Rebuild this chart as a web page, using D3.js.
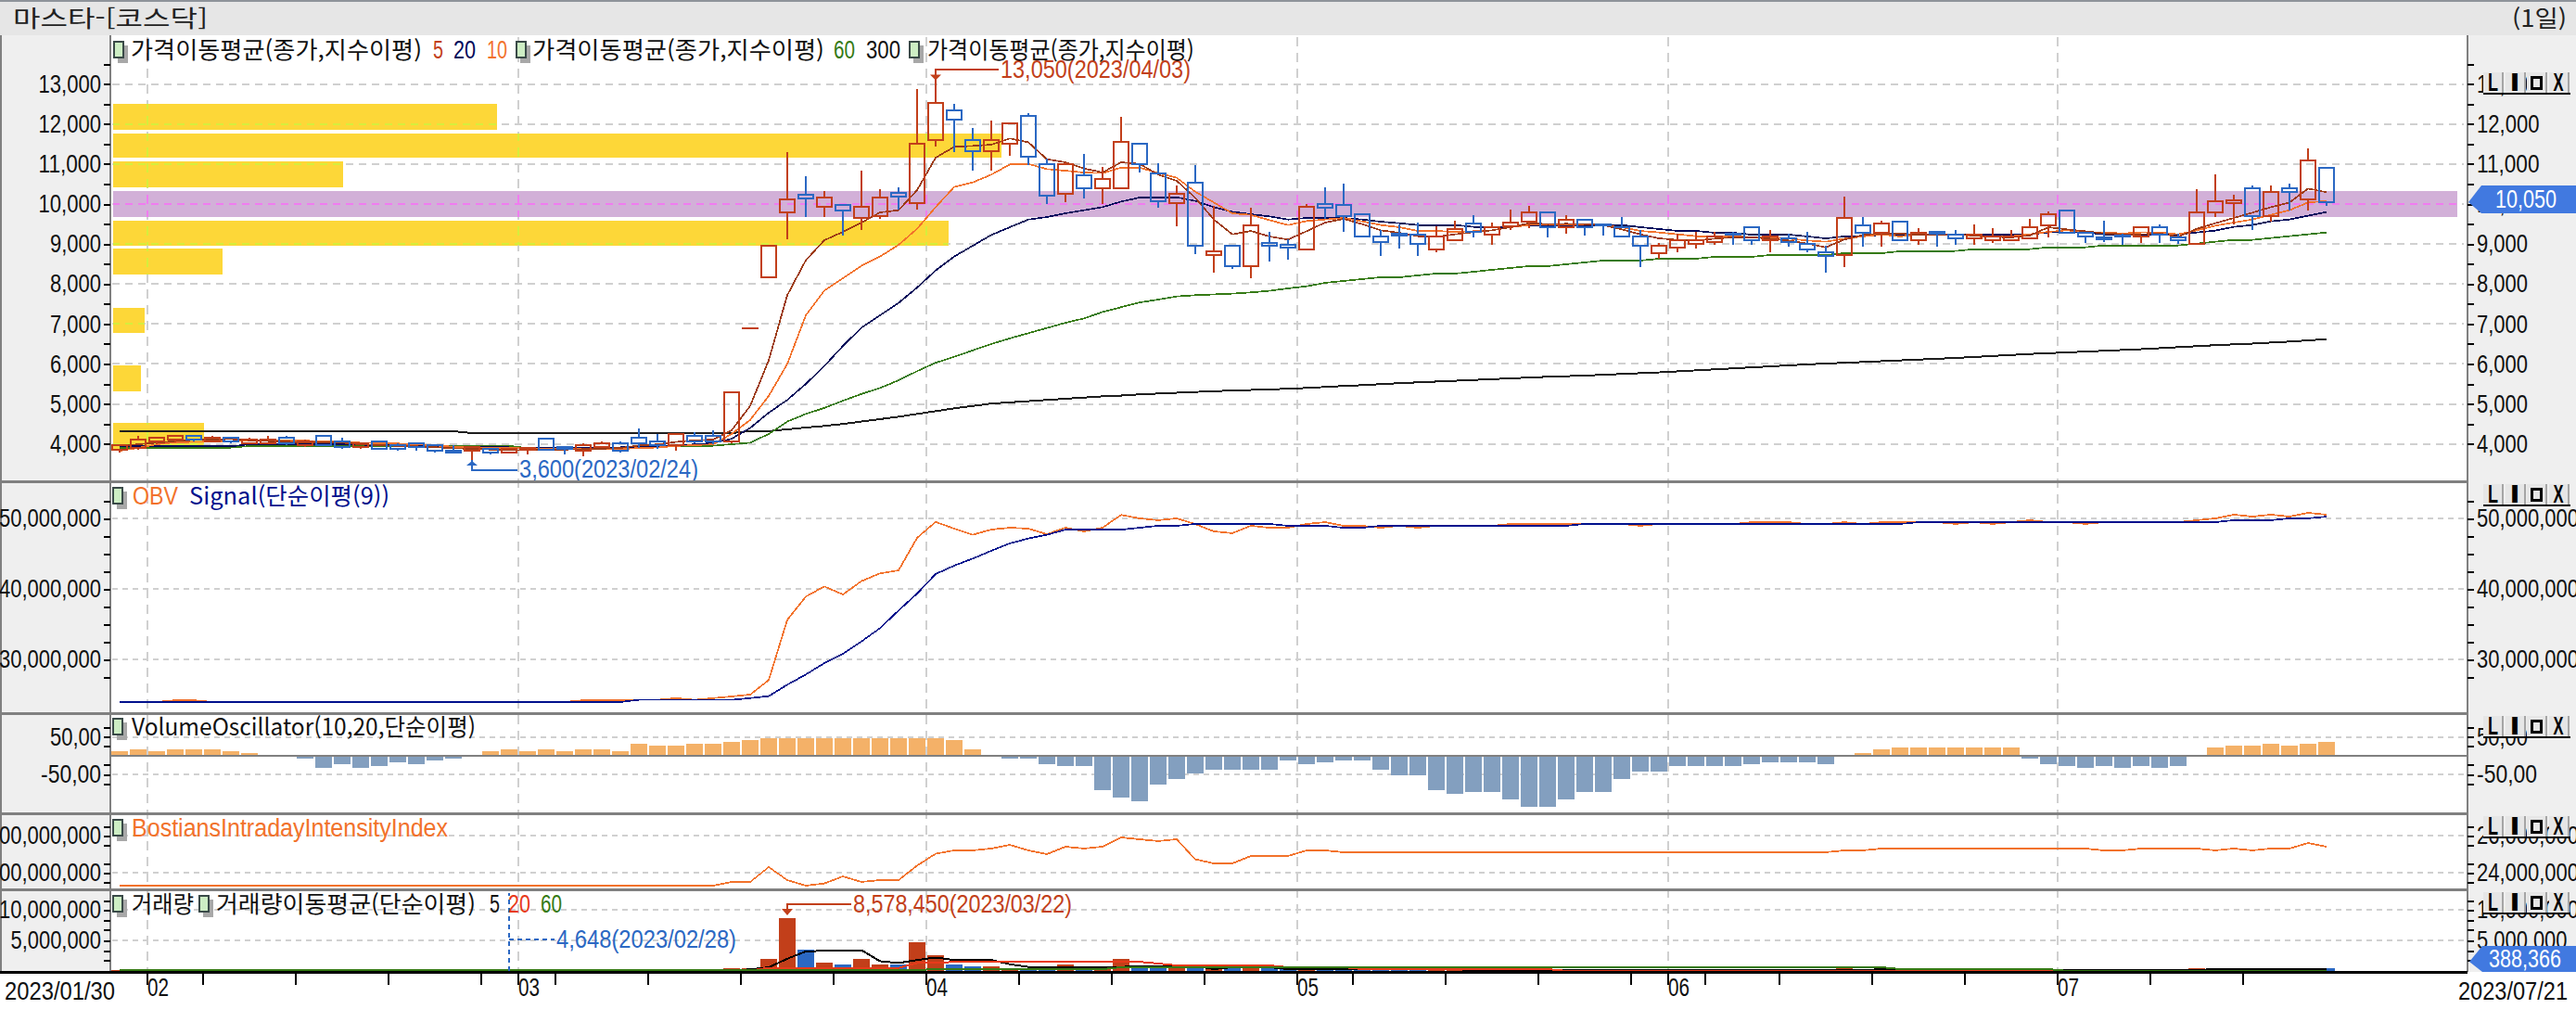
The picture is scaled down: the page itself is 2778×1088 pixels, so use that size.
<!DOCTYPE html>
<html lang="ko">
<head>
<meta charset="utf-8">
<title>마스타 - 코스닥</title>
<script src="https://cdn.jsdelivr.net/npm/d3@7/dist/d3.min.js"></script>
<style>
    html, body { margin: 0; padding: 0; background: #fff; overflow: hidden; }
    svg { display: block; }
    .crisp { shape-rendering: crispEdges; }
    text { font-family: "Liberation Sans", "Noto Sans CJK KR", sans-serif; font-size: 27px; fill: #111; }
    .kr { font-family: "Noto Sans CJK KR", sans-serif; font-size: 25px; }
</style>
</head>
<body>
<svg id="chart" width="2778" height="1088"></svg>
<script>
// Trading days shown on the chart
var days = [
    '01/30','01/31',
    '02/01','02/02','02/03','02/06','02/07','02/08','02/09','02/10','02/13','02/14',
    '02/15','02/16','02/17','02/20','02/21','02/22','02/23','02/24','02/27','02/28',
    '03/02','03/03','03/06','03/07','03/08','03/09','03/10','03/13','03/14','03/15','03/16',
    '03/17','03/20','03/21','03/22','03/23','03/24','03/27','03/28','03/29','03/30','03/31',
    '04/03','04/04','04/05','04/06','04/07','04/10','04/11','04/12','04/13','04/14',
    '04/17','04/18','04/19','04/20','04/21','04/24','04/25','04/26','04/27','04/28',
    '05/02','05/03','05/04','05/08','05/09','05/10','05/11','05/12','05/15','05/16',
    '05/17','05/18','05/19','05/22','05/23','05/24','05/25','05/26','05/30','05/31',
    '06/01','06/02','06/05','06/07','06/08','06/09','06/12','06/13','06/14','06/15','06/16',
    '06/19','06/20','06/21','06/22','06/23','06/26','06/27','06/28','06/29','06/30',
    '07/03','07/04','07/05','07/06','07/07','07/10','07/11','07/12','07/13','07/14',
    '07/17','07/18','07/19','07/20','07/21'
];
var monthStarts = ['02/01','03/02','04/03','05/02','06/01','07/03'];
var mondays = ['02/06','02/13','02/20','02/27','03/06','03/13','03/20','03/27','04/10','04/17','04/24',
    '05/08','05/15','05/22','05/30','06/05','06/12','06/19','06/26','07/10','07/17'];

var open = [
    3854,3900,4062,4109,4202,4062,4155,4016,4016,4155,
    3970,4194,4062,3923,4062,3970,4016,3970,3823,3830,
    3877,3784,3854,4132,3923,3830,3923,4016,4155,4062,
    3970,4202,4202,4062,6900,8167,9791,10224,9923,9985,
    9644,9691,10271,10023,11600,12350,11608,11314,11500,12211,
    11005,10255,10727,10387,10387,11515,10773,10015,10541,8716,
    8964,8438,9026,8979,8863,9992,9985,9753,9197,9266,
    9243,8856,9088,9521,9228,9444,9552,9800,9413,9614,
    9490,9429,9197,8764,8903,8996,9042,9258,9429,9088,
    9150,9011,8787,8717,9475,9274,9568,9088,9305,9243,
    9135,9088,9088,9135,9459,9846,9289,9166,9212,9181,
    9428,9166,9003,9784,10016,10403,9691,10403,10109,10913
];
var high = [
    3970,4201,4155,4202,4202,4201,4155,4155,4201,4201,
    4109,4194,4155,4016,4062,4016,4016,3970,3970,3923,
    3877,3877,3900,4132,3923,4016,4062,4062,4387,4248,
    4248,4294,4341,5298,6900,8964,11291,10688,10325,9985,
    10827,10363,10410,12876,13050,12505,11894,12080,12026,12265,
    11144,11044,11253,10928,12180,11515,11013,10464,10974,9946,
    8964,9907,9304,9111,9992,10417,10510,9753,9343,9490,
    9537,9444,9575,9722,9537,9862,9954,9800,9722,9614,
    9490,9676,9343,9026,9258,9305,9305,9305,9429,9343,
    9258,9305,8957,10186,9676,9583,9568,9398,9305,9351,
    9490,9390,9351,9630,9815,9846,9289,9575,9259,9428,
    9482,9259,10372,10743,10233,10457,10465,10503,11392,10913
];
var low = [
    3784,3854,3993,4039,4060,4062,4016,4016,4016,3970,
    3923,3977,3877,3877,3877,3830,3830,3784,3792,3600,
    3738,3784,3738,3854,3738,3699,3923,3784,3900,3877,
    3830,4016,4000,4016,6900,8167,9126,9683,9683,9219,
    9358,9637,9869,9869,11446,11307,10843,10843,11214,10982,
    10000,10054,10147,10000,10387,10796,9915,9451,8755,8291,
    8384,8152,8570,8608,8863,9637,9304,9188,8702,8887,
    8702,8802,9088,9166,8980,9351,9398,9166,9258,9212,
    9212,9181,8423,8624,8794,8887,8980,8980,8980,8794,
    8934,8794,8284,8423,8934,8934,9088,8980,8941,8980,
    8980,9026,9088,9135,9173,9289,9026,9057,8980,9026,
    9026,9000,9003,9676,9498,9351,9568,9831,9831,9962
];
var close = [
    3970,4101,4155,4202,4109,4155,4062,4109,4109,4016,
    4062,3977,3923,4016,3877,3877,3923,3830,3792,3923,
    3784,3877,3900,3854,3877,3970,4016,3830,4016,3970,
    4248,4062,4062,5298,6900,8964,10124,10147,10170,9845,
    9938,10170,10193,11515,12536,12103,11314,11608,12026,11183,
    10201,11005,10387,10634,11562,10997,10070,10263,8956,8825,
    8438,9474,8948,8902,9938,9915,9706,9188,9042,9220,
    8996,9197,9382,9305,9429,9537,9800,9413,9614,9413,
    9460,9181,8949,8965,9088,9104,9197,9228,9088,9197,
    9042,8856,8709,9660,9274,9521,9088,9289,9258,9135,
    9227,9181,9181,9428,9753,9289,9197,9119,9181,9428,
    9227,9088,9800,10078,10093,9691,10310,10295,11099,10050
];

// Moving averages
var ma5 = [
    3960,3990,4030,4070,4100,4110,4120,4090,4070,4060,
    4030,4040,4030,3990,3970,3950,3940,3920,3890,3880,
    3860,3850,3840,3860,3860,3870,3880,3900,3960,3990,
    4050,4090,4110,4340,4950,6090,7720,8593,9095,9304,
    9536,9791,9845,10348,11160,11430,11454,11485,11640,11546,
    11120,11044,10890,10790,11044,11005,10735,10580,10155,9613,
    9242,9328,9188,9111,9320,9537,9630,9498,9343,9282,
    9197,9181,9243,9297,9343,9421,9521,9498,9506,9498,
    9475,9367,9243,9142,9104,9088,9135,9166,9166,9135,
    9088,9011,8918,9112,9227,9266,9266,9227,9243,9243,
    9212,9181,9166,9212,9420,9367,9320,9266,9243,9243,
    9266,9181,9382,9521,9653,9784,9923,10039,10387,10295
];
var ma10 = [
    3830,3900,3990,4040,4050,4060,4070,4080,4080,4090,
    4080,4070,4050,4030,4020,4010,3990,3960,3930,3910,
    3900,3900,3890,3880,3870,3870,3880,3870,3900,3910,
    3950,3970,3990,4250,4600,5200,6000,7216,7835,8144,
    8454,8686,8979,9381,9923,10425,10541,10735,10990,11005,
    10874,10835,10789,10773,10912,10912,10773,10657,10309,10039,
    9768,9729,9598,9474,9575,9614,9653,9568,9475,9421,
    9328,9328,9305,9320,9343,9421,9475,9490,9498,9498,
    9460,9421,9328,9290,9243,9197,9189,9189,9174,9174,
    9135,9088,9057,9135,9189,9243,9189,9243,9243,9243,
    9204,9181,9197,9243,9305,9343,9290,9290,9266,9290,
    9290,9243,9343,9459,9537,9614,9730,9846,10039,10078
];
var ma20 = [
    3950,3950,3950,3950,3940,3940,3940,3990,3990,3990,
    3990,3990,3990,3980,3970,3960,3950,3940,3930,3925,
    3920,3915,3910,3905,3905,3905,3910,3915,3920,3930,
    3950,3990,4020,4130,4400,4780,5100,5500,5950,6450,
    6907,7216,7526,7912,8338,8686,8956,9227,9420,9613,
    9675,9768,9845,9923,10062,10162,10170,10170,10077,9923,
    9807,9745,9691,9613,9652,9653,9653,9614,9560,9521,
    9475,9475,9475,9429,9429,9429,9475,9475,9475,9475,
    9475,9475,9421,9375,9328,9328,9282,9282,9235,9235,
    9235,9189,9142,9189,9189,9235,9235,9235,9235,9243,
    9243,9243,9243,9243,9290,9290,9290,9243,9243,9243,
    9243,9243,9290,9336,9428,9475,9568,9614,9707,9800
];
var ma60 = [
    3908,3908,3908,3908,3908,3908,3908,3946,3946,3946,
    3946,3946,3954,3954,3954,3954,3954,3954,3954,3954,
    3954,3954,3892,3892,3892,3892,3908,3908,3908,3954,
    3954,3954,3954,3993,4030,4250,4560,4750,4900,5080,
    5250,5400,5590,5820,6030,6180,6340,6500,6640,6770,
    6900,7030,7140,7300,7420,7540,7610,7690,7720,7740,
    7760,7790,7830,7890,7944,8029,8076,8122,8168,8168,
    8215,8261,8261,8307,8354,8400,8447,8447,8493,8540,
    8586,8586,8586,8632,8632,8632,8679,8679,8679,8725,
    8725,8725,8725,8771,8771,8771,8818,8818,8818,8826,
    8872,8872,8872,8872,8918,8918,8918,8965,8965,8965,
    8965,8965,9011,9057,9104,9104,9150,9197,9243,9289
];
var ma300 = [
    4317,4317,4317,4317,4317,4317,4317,4317,4317,4317,
    4317,4317,4317,4317,4317,4317,4317,4317,4317,4271,
    4271,4271,4271,4271,4271,4271,4271,4271,4271,4271,
    4271,4271,4271,4271,4320,4320,4365,4410,4450,4500,
    4560,4620,4680,4750,4820,4890,4950,5010,5040,5070,
    5100,5130,5160,5190,5210,5240,5260,5280,5300,5320,
    5335,5350,5365,5380,5400,5425,5450,5470,5495,5520,
    5540,5560,5580,5600,5620,5640,5660,5680,5695,5710,
    5730,5750,5770,5790,5815,5840,5865,5890,5915,5940,
    5965,5990,6010,6030,6050,6070,6090,6110,6130,6150,
    6175,6200,6225,6250,6270,6290,6310,6330,6350,6370,
    6395,6420,6445,6470,6490,6510,6535,6560,6590,6620
];

// Volume profile bands: top price, bottom price, share in percent of the longest
var profileTop = [12506,11764,11068,9583,8887,7403,5965,4527];
var profileBottom = [11856,11160,10409,8968,8238,6786,5315,3877];
var profileShare = [43.2,100,25.9,94,12.3,3.5,3.1,10.2];
var currentBandTop = 10326;
var currentBandBottom = 9676;
var currentBandShare = 263.9;

var obv = [
    23.95,23.95,23.95,24.2,24.2,23.95,23.95,23.95,23.95,23.95,
    23.95,23.95,23.95,23.95,23.95,23.95,23.95,23.95,23.95,23.95,
    23.95,23.95,23.95,23.95,23.95,24.2,24.2,24.2,24.26,24.26,
    24.5,24.26,24.5,24.74,25,27.06,35.6,38.9,40.35,39.2,
    41.1,42.2,42.63,47.24,49.5,48.55,47.68,48.42,48.68,48.55,
    47.76,48.68,48.16,48.68,50.5,50,49.74,50,49.2,48.16,
    47.9,48.95,48.68,48.68,49.21,49.47,48.95,48.95,48.68,48.95,
    48.68,48.95,48.95,48.95,48.95,49.21,49.21,49.21,49.21,49.21,
    49.21,49.21,48.95,49.21,49.21,49.21,49.21,49.21,49.47,49.47,
    49.47,49.21,49.21,49.47,49.21,49.47,49.47,49.47,49.47,49.21,
    49.47,49.21,49.47,49.74,49.47,49.47,49.21,49.47,49.47,49.47,
    49.47,49.47,49.74,50,50.53,50.26,50.53,50.26,50.79,50.53
];
var obvSignal = [
    23.95,23.95,23.95,23.95,23.95,23.95,23.95,23.95,23.95,23.95,
    23.95,23.95,23.95,23.95,23.95,23.95,23.95,23.95,23.95,23.95,
    23.95,23.95,23.95,23.95,23.95,23.95,23.95,23.95,24.26,24.26,
    24.26,24.26,24.26,24.26,24.5,24.78,26.4,27.85,29.47,30.8,
    32.54,34.43,36.93,39.34,42.1,43.3,44.3,45.4,46.45,47.15,
    47.68,48.4,48.4,48.4,48.4,48.68,48.95,48.95,49.21,49.21,
    49.21,49.21,49.21,48.95,48.95,48.95,48.68,48.68,48.95,48.95,
    48.95,48.95,48.95,48.95,48.95,48.95,48.95,48.95,48.95,49.21,
    49.21,49.21,49.21,49.21,49.21,49.21,49.21,49.21,49.21,49.21,
    49.21,49.21,49.21,49.21,49.21,49.21,49.21,49.47,49.47,49.47,
    49.47,49.47,49.47,49.47,49.47,49.47,49.47,49.47,49.47,49.47,
    49.47,49.47,49.47,49.47,49.74,49.74,49.74,50,50,50.26
];

var volumeOsc = [
    10,15,10,15,15,15,10,5,0,0,
    -5,-30,-20,-30,-25,-15,-20,-10,-5,0,
    10,15,10,15,10,15,15,10,30,25,
    25,30,30,35,40,45,45,45,45,45,
    45,45,45,45,45,40,15,0,-5,-5,
    -20,-25,-25,-89,-109,-119,-74,-59,-45,-35,
    -35,-35,-35,-10,-20,-15,-10,-10,-35,-50,
    -50,-89,-99,-94,-94,-114,-134,-134,-114,-94,
    -94,-59,-40,-40,-25,-25,-25,-25,-20,-15,
    -15,-15,-20,0,5,15,20,20,20,20,
    20,20,20,-5,-20,-25,-30,-25,-30,-25,
    -30,-25,0,20,25,25,30,25,30,35
];

var bostians = [
    23.3,23.3,23.3,23.3,23.3,23.3,23.3,23.3,23.3,23.3,
    23.3,23.3,23.3,23.3,23.3,23.3,23.3,23.3,23.3,23.3,
    23.3,23.3,23.3,23.3,23.3,23.3,23.3,23.3,23.3,23.3,
    23.3,23.3,23.3,23.5,23.5,24.3,23.6,23.3,23.42,23.8,
    23.5,23.6,23.6,24.38,25.02,25.2,25.2,25.3,25.5,25.2,
    25,25.4,25.3,25.4,25.9,25.8,25.7,25.8,24.72,24.5,
    24.5,24.9,24.9,24.9,25.2,25.2,25.1,25.1,25.1,25.1,
    25.1,25.1,25.1,25.1,25.1,25.1,25.1,25.1,25.1,25.1,
    25.1,25.1,25.1,25.1,25.1,25.1,25.1,25.1,25.1,25.1,
    25.1,25.1,25.1,25.2,25.2,25.3,25.3,25.3,25.3,25.3,
    25.3,25.3,25.3,25.3,25.3,25.3,25.3,25.2,25.2,25.3,
    25.3,25.3,25.3,25.2,25.3,25.2,25.3,25.3,25.6,25.4
];

var volume = [
    150000,120000,90000,80000,70000,75000,60000,60000,55000,60000,
    50000,45000,40000,40000,38000,35000,30000,30000,28000,40000,
    30000,4648,20000,30000,25000,45000,35000,35000,60000,70000,
    90000,60000,70000,450000,450000,2000000,8578450,3500000,1400000,1100000,
    2000000,1100000,1100000,4700000,2600000,1100000,800000,800000,500000,500000,
    500000,1100000,500000,500000,2000000,500000,500000,1100000,500000,800000,
    500000,800000,500000,400000,300000,300000,300000,300000,300000,250000,
    250000,220000,250000,200000,200000,250000,220000,200000,200000,180000,
    180000,150000,150000,180000,150000,150000,130000,130000,120000,130000,
    130000,120000,150000,500000,200000,200000,150000,130000,130000,120000,
    120000,110000,110000,120000,130000,120000,100000,100000,100000,110000,
    120000,110000,500000,480000,250000,300000,250000,250000,500000,388366
];
var volMa5 = [
    100000,100000,100000,100000,100000,90000,80000,70000,70000,60000,
    60000,55000,50000,45000,42000,40000,38000,35000,32000,32000,
    30000,25000,25000,25000,25000,30000,30000,30000,40000,50000,
    60000,65000,70000,120000,250000,600000,2000000,3200000,3300000,3400000,
    3400000,1600000,1300000,1800000,2200000,1800000,1800000,1800000,1100000,650000,
    650000,650000,650000,650000,650000,800000,800000,800000,800000,300000,
    600000,600000,600000,300000,300000,300000,300000,300000,280000,280000,
    250000,240000,230000,220000,210000,210000,210000,210000,200000,200000,
    180000,170000,160000,160000,150000,150000,140000,140000,130000,130000,
    130000,120000,130000,220000,220000,230000,230000,200000,140000,130000,
    120000,120000,110000,110000,120000,120000,110000,110000,100000,100000,
    110000,110000,200000,250000,280000,300000,300000,280000,300000,330000
];
var volMa20 = [
    60000,60000,60000,60000,60000,60000,60000,60000,60000,60000,
    60000,60000,60000,60000,60000,60000,60000,60000,60000,60000,
    60000,60000,60000,60000,60000,60000,60000,60000,60000,60000,
    60000,60000,60000,60000,60000,500000,500000,500000,500000,500000,
    500000,500000,500000,1300000,1300000,1500000,1500000,1500000,1500000,1500000,
    1500000,1500000,1500000,1500000,1500000,1500000,1210000,910000,910000,910000,
    910000,910000,910000,610000,610000,610000,610000,300000,300000,300000,
    300000,300000,300000,300000,300000,300000,300000,300000,20000,20000,
    20000,20000,20000,20000,20000,20000,20000,20000,20000,20000,
    20000,20000,20000,20000,20000,20000,20000,20000,20000,20000,
    20000,20000,20000,20000,20000,20000,20000,20000,20000,20000,
    20000,20000,20000,20000,20000,20000,20000,20000,20000,20000
];
var volMa60 = [
    150000,150000,150000,150000,150000,150000,150000,150000,150000,150000,
    150000,150000,150000,150000,150000,150000,150000,150000,150000,150000,
    150000,150000,150000,150000,150000,150000,150000,150000,150000,150000,
    150000,150000,150000,150000,150000,150000,150000,150000,150000,150000,
    150000,150000,150000,150000,300000,300000,300000,300000,300000,300000,
    300000,300000,300000,300000,610000,610000,610000,610000,610000,610000,
    610000,610000,610000,610000,610000,610000,610000,610000,610000,610000,
    610000,610000,610000,610000,610000,610000,610000,610000,610000,610000,
    610000,610000,610000,610000,610000,610000,610000,610000,610000,610000,
    610000,610000,610000,610000,610000,610000,300000,300000,300000,300000,
    300000,300000,300000,300000,300000,20000,20000,20000,20000,20000,
    20000,20000,20000,20000,20000,20000,20000,20000,20000,20000
];

var priceMajor = [4000,5000,6000,7000,8000,9000,10000,11000,12000,13000];
var priceMinor = [4500,5500,6500,7500,8500,9500,10500,11500,12500,13500];
var obvMajor = [30,40,50];
var obvMinor = [27.5,32.5,35,37.5,42.5,45,47.5,52.5];
var voMajor = [50,-50];
var voMinor = [75,25,-25,-75];
var biiMajor = [26,24];
var biiMinor = [26.5,25.5,24.5,23.5];
var volMajor = [10000000,5000000];
var volMinor = [11500000,8300000,6700000,3300000,1700000];

var red = '#c23f1a', blue = '#2b68c3', brown = '#9c3a16', orange = '#f2722b';
var navy = '#00085a', green = '#357a14', obvNavy = '#00108c';
var plotLeft = 119, plotRight = 2661;

var svg = d3.select('#chart');

var x = d3.scaleBand().domain(days).range([plotLeft, plotLeft + 20 * days.length]);
var cx = function (i) { return x(days[i]) + x.bandwidth() / 2; };

var yPrice = d3.scaleLinear().domain([13000, 4000]).range([90.7, 478.7]);
var yObv = d3.scaleLinear().domain([50, 30]).range([559, 711]);
var yVo = d3.scaleLinear().domain([50, -50]).range([794.7, 835]);
var yBii = d3.scaleLinear().domain([26, 24]).range([901, 941]);
var yVol = d3.scaleLinear().domain([0, 10000000]).range([1047, 981]);
var xProfile = d3.scaleLinear().domain([0, 100]).range([122, 1080]);

var fmt = d3.format(',');

// width of a number label in the condensed look of the original
function numWidth(s) {
    var w = 0;
    for (var k = 0; k < s.length; k++) {
        var c = s[k];
        w += (c == ',') ? 5 : (c == '-') ? 10 : 12.5;
    }
    return w;
}

function label(xPos, yPos, str, width, color, cls, anchor) {
    var t = svg.append('text')
        .attr('x', xPos)
        .attr('y', yPos)
        .attr('dy', '0.35em')
        .attr('textLength', width)
        .attr('lengthAdjust', 'spacingAndGlyphs')
        .text(str);
    if (color) t.style('fill', color);
    if (cls) t.attr('class', cls);
    if (anchor) t.attr('text-anchor', anchor);
    return t;
}

function legendIcon(xPos, yPos) {
    svg.append('rect').attr('class', 'crisp').attr('x', xPos + 4).attr('y', yPos + 4)
        .attr('width', 11).attr('height', 19).attr('fill', '#a8a8a8');
    svg.append('rect').attr('class', 'crisp').attr('x', xPos).attr('y', yPos)
        .attr('width', 10).attr('height', 17).attr('fill', '#cdeec4')
        .attr('stroke', '#3a4a48').attr('stroke-width', 2);
}

function paneButtons(yTop) {
    var names = ['L', 'I', 'box', 'X'];
    names.forEach(function (n, k) {
        var bx = 2678 + k * 23.5;
        svg.append('rect').attr('class', 'crisp').attr('x', bx).attr('y', yTop)
            .attr('width', 22).attr('height', 22).attr('fill', '#e6e6e6');
        svg.append('rect').attr('class', 'crisp').attr('x', bx + 20).attr('y', yTop)
            .attr('width', 2).attr('height', 22).attr('fill', '#a5a5a5');
        if (n == 'box') {
            svg.append('rect').attr('class', 'crisp').attr('x', bx + 5).attr('y', yTop + 5)
                .attr('width', 10).attr('height', 12).attr('fill', 'none')
                .attr('stroke', '#000').attr('stroke-width', 3);
        } else {
            label(bx + 5, yTop + 11, n, 11, '#000').style('font-weight', 'bold');
        }
    });
    svg.append('rect').attr('class', 'crisp').attr('x', 2678).attr('y', yTop + 22)
        .attr('width', 94).attr('height', 2).attr('fill', '#000');
}

function hGrid(scale, values, dash) {
    svg.append('g').attr('class', 'crisp')
        .selectAll('line').data(values).enter().append('line')
        .attr('x1', plotLeft + 2).attr('x2', plotRight - 4)
        .attr('y1', scale).attr('y2', scale)
        .attr('stroke', '#d0d0d0').attr('stroke-width', 2)
        .attr('stroke-dasharray', dash);
}

function valueAxes(scale, major, minor, leftText, rightText) {
    var ticks = major.concat(minor);
    var left = svg.append('g').attr('class', 'crisp')
        .attr('transform', 'translate(' + plotLeft + ',0)')
        .call(d3.axisLeft(scale).tickValues(ticks).tickSize(7).tickFormat(function (d) {
            var k = major.indexOf(d);
            return k < 0 ? '' : leftText[k];
        }));
    var right = svg.append('g').attr('class', 'crisp')
        .attr('transform', 'translate(' + plotRight + ',0)')
        .call(d3.axisRight(scale).tickValues(ticks).tickSize(7).tickFormat(function (d) {
            var k = major.indexOf(d);
            return k < 0 ? '' : rightText[k];
        }));
    [left, right].forEach(function (g) {
        g.select('.domain').remove();
        g.selectAll('line').attr('stroke', '#000').attr('stroke-width', 2);
        g.selectAll('text')
            .style('font-family', '"Liberation Sans", sans-serif')
            .style('font-size', '27px')
            .style('fill', '#111')
            .attr('lengthAdjust', 'spacingAndGlyphs')
            .attr('textLength', function () { return numWidth(this.textContent) || null; });
    });
    left.selectAll('text').attr('x', -10);
    right.selectAll('text').attr('x', 10);
}

function drawLine(values, scale, color, width) {
    var line = d3.line()
        .x(function (d, i) { return cx(i); })
        .y(function (d) { return scale(d); });
    svg.append('path').datum(values).attr('class', 'crisp')
        .attr('d', line).attr('fill', 'none')
        .attr('stroke', color).attr('stroke-width', width || 1.7);
}

// ---- backgrounds ----
svg.append('rect').attr('width', 2778).attr('height', 1088).attr('fill', '#fff');
svg.append('rect').attr('width', 2778).attr('height', 38).attr('fill', '#e6e6e6');
svg.append('rect').attr('width', 2778).attr('height', 2).attr('fill', '#8e939a');
svg.append('rect').attr('x', 0).attr('y', 38).attr('width', plotLeft).attr('height', 1010).attr('fill', '#efefef');
svg.append('rect').attr('x', plotRight).attr('y', 38).attr('width', 2778 - plotRight).attr('height', 1010).attr('fill', '#efefef');

// ---- volume profile bands ----
var bands = svg.append('g').attr('class', 'crisp');
var clip = svg.append('defs');
var clipYellow = clip.append('clipPath').attr('id', 'clipYellow');
profileShare.forEach(function (s, k) {
    [bands, clipYellow].forEach(function (g) {
        g.append('rect')
            .attr('x', xProfile(0))
            .attr('y', yPrice(profileTop[k]))
            .attr('width', xProfile(s) - xProfile(0))
            .attr('height', yPrice(profileBottom[k]) - yPrice(profileTop[k]))
            .attr('fill', '#fdd738');
    });
});
var clipPurple = clip.append('clipPath').attr('id', 'clipPurple');
[bands, clipPurple].forEach(function (g) {
    g.append('rect')
        .attr('x', xProfile(0))
        .attr('y', yPrice(currentBandTop))
        .attr('width', xProfile(currentBandShare) - xProfile(0))
        .attr('height', yPrice(currentBandBottom) - yPrice(currentBandTop))
        .attr('fill', '#d2b0d8');
});

// ---- grid ----
hGrid(yPrice, priceMajor, '8,6');
hGrid(yObv, obvMajor, '6,5');
hGrid(yVo, voMajor, '6,5');
hGrid(yBii, biiMajor, '6,5');
hGrid(yVol, volMajor, '6,5');

svg.append('g').attr('class', 'crisp')
    .selectAll('line').data(monthStarts).enter().append('line')
    .attr('x1', function (d) { return x(d); }).attr('x2', function (d) { return x(d); })
    .attr('y1', 40).attr('y2', 1047)
    .attr('stroke', '#d0d0d0').attr('stroke-width', 2).attr('stroke-dasharray', '10,7');

// the grid changes colour where it crosses a band
[['clipYellow', '#d6ee3c'], ['clipPurple', '#f07cf0']].forEach(function (c) {
    var g = svg.append('g').attr('class', 'crisp').attr('clip-path', 'url(#' + c[0] + ')');
    g.selectAll('line.h').data(priceMajor).enter().append('line')
        .attr('x1', plotLeft + 2).attr('x2', plotRight - 4)
        .attr('y1', yPrice).attr('y2', yPrice)
        .attr('stroke', c[1]).attr('stroke-width', 2).attr('stroke-dasharray', '8,6');
    g.selectAll('line.v').data(monthStarts).enter().append('line')
        .attr('x1', function (d) { return x(d); }).attr('x2', function (d) { return x(d); })
        .attr('y1', 40).attr('y2', 1047)
        .attr('stroke', c[1]).attr('stroke-width', 2).attr('stroke-dasharray', '10,7');
});

// ---- price pane ----
drawLine(ma300, yPrice, '#1e1e1e', 2);
drawLine(ma60, yPrice, green);
drawLine(ma20, yPrice, navy);
drawLine(ma10, yPrice, orange);
drawLine(ma5, yPrice, brown);

var candles = svg.append('g').attr('class', 'crisp')
    .selectAll('g').data(days).enter().append('g')
    .attr('stroke', function (d, i) { return close[i] >= open[i] ? red : blue; })
    .attr('stroke-width', 2);
candles.append('line')
    .attr('x1', function (d, i) { return cx(i); }).attr('x2', function (d, i) { return cx(i); })
    .attr('y1', function (d, i) { return yPrice(high[i]); })
    .attr('y2', function (d, i) { return yPrice(Math.max(open[i], close[i])); });
candles.append('line')
    .attr('x1', function (d, i) { return cx(i); }).attr('x2', function (d, i) { return cx(i); })
    .attr('y1', function (d, i) { return yPrice(Math.min(open[i], close[i])); })
    .attr('y2', function (d, i) { return yPrice(low[i]); });
candles.append('rect')
    .attr('x', function (d, i) { return cx(i) - 8; })
    .attr('width', 16)
    .attr('y', function (d, i) { return yPrice(Math.max(open[i], close[i])); })
    .attr('height', function (d, i) { return Math.max(Math.abs(yPrice(open[i]) - yPrice(close[i])), 0.01); })
    .attr('fill', 'none');

// high and low markers
var hiI = d3.maxIndex(high), loI = d3.minIndex(low);
var hiY = yPrice(high[hiI]);
svg.append('path').attr('class', 'crisp')
    .attr('d', 'M' + cx(hiI) + ',' + hiY + 'V75H1077')
    .attr('fill', 'none').attr('stroke', red).attr('stroke-width', 2);
svg.append('path').attr('d', 'M' + (cx(hiI) - 6) + ',' + (hiY - 8) + 'h12l-6,6z').attr('fill', red);
label(1079, 75, fmt(high[hiI]) + '(2023/' + days[hiI] + ')', 205, red);

var loY = yPrice(low[loI]);
svg.append('path').attr('class', 'crisp')
    .attr('d', 'M' + cx(loI) + ',' + loY + 'V507H558')
    .attr('fill', 'none').attr('stroke', blue).attr('stroke-width', 2);
svg.append('path').attr('d', 'M' + (cx(loI) - 6) + ',502h12l-6,-5z').attr('fill', blue);
label(560, 506, fmt(low[loI]) + '(2023/' + days[loI] + ')', 193, blue);

// ---- OBV pane ----
drawLine(obv, yObv, orange);
drawLine(obvSignal, yObv, obvNavy);

// ---- volume oscillator pane ----
svg.append('g').attr('class', 'crisp')
    .selectAll('rect').data(volumeOsc).enter().append('rect')
    .attr('x', function (d, i) { return cx(i) - 9; })
    .attr('width', 18)
    .attr('y', function (d) { return d > 0 ? yVo(d) - 1 : yVo(0) + 1; })
    .attr('height', function (d) { return Math.abs(yVo(d) - yVo(0)); })
    .attr('fill', function (d) { return d > 0 ? '#f4b168' : '#839fbf'; });
svg.append('rect').attr('class', 'crisp').attr('x', plotLeft).attr('y', yVo(0) - 1)
    .attr('width', plotRight - plotLeft).attr('height', 2).attr('fill', '#808080');

// ---- Bostian pane ----
drawLine(bostians, yBii, orange);

// ---- volume pane ----
svg.append('g').attr('class', 'crisp')
    .selectAll('rect').data(volume).enter().append('rect')
    .attr('x', function (d, i) { return cx(i) - 9; })
    .attr('width', 18)
    .attr('y', function (d) { return yVol(d); })
    .attr('height', function (d) { return yVol(0) - yVol(d); })
    .attr('fill', function (d, i) { return close[i] >= open[i] ? red : blue; });
drawLine(volMa5, yVol, '#000', 2);
drawLine(volMa20, yVol, '#e83a1a', 2);
drawLine(volMa60, yVol, green, 2);

var volHi = d3.maxIndex(volume), volLo = d3.minIndex(volume);
svg.append('path').attr('class', 'crisp')
    .attr('d', 'M' + cx(volHi) + ',' + (yVol(volume[volHi]) - 4) + 'V975H918')
    .attr('fill', 'none').attr('stroke', red).attr('stroke-width', 2);
svg.append('path').attr('d', 'M' + (cx(volHi) - 6) + ',980h12l-6,7z').attr('fill', red);
label(920, 975, fmt(volume[volHi]) + '(2023/' + days[volHi] + ')', 236, red);

svg.append('path').attr('class', 'crisp')
    .attr('d', 'M' + cx(volLo) + ',1047V963M' + cx(volLo) + ',1013H598')
    .attr('fill', 'none').attr('stroke', blue).attr('stroke-width', 2)
    .attr('stroke-dasharray', '5,4');
label(600, 1013, fmt(volume[volLo]) + '(2023/' + days[volLo] + ')', 194, blue);

// ---- frame ----
[519, 769, 877, 959].forEach(function (yLine) {
    svg.append('rect').attr('class', 'crisp').attr('x', 0).attr('y', yLine - 1)
        .attr('width', plotRight).attr('height', 3).attr('fill', '#808080');
});
svg.append('rect').attr('class', 'crisp').attr('x', plotLeft - 1).attr('y', 38).attr('width', 2).attr('height', 1010).attr('fill', '#808080');
svg.append('rect').attr('class', 'crisp').attr('x', plotRight - 1).attr('y', 38).attr('width', 2).attr('height', 1010).attr('fill', '#808080');
svg.append('rect').attr('class', 'crisp').attr('x', 0).attr('y', 38).attr('width', 2).attr('height', 1010).attr('fill', '#808080');

// ---- value axes ----
valueAxes(yPrice, priceMajor, priceMinor, priceMajor.map(fmt), priceMajor.map(fmt));
valueAxes(yObv, obvMajor, obvMinor, ['30,000,000','40,000,000','50,000,000'], ['30,000,000','40,000,000','50,000,000']);
valueAxes(yVo, voMajor, voMinor, ['50,00','-50,00'], ['50,00','-50,00']);
valueAxes(yBii, biiMajor, biiMinor, ['00,000,000','00,000,000'], ['26,000,000','24,000,000']);
valueAxes(yVol, volMajor, volMinor, ['10,000,000','5,000,000'], ['10,000,000','5,000,000']);

// ---- date axis ----
var axisX = svg.append('g').attr('class', 'crisp')
    .attr('transform', 'translate(0,1048)')
    .call(d3.axisBottom(x).tickValues(monthStarts.concat(mondays)).tickSize(14).tickFormat(function (d) {
        return monthStarts.indexOf(d) < 0 ? '' : d.slice(0, 2);
    }));
axisX.select('.domain').remove();
axisX.selectAll('.tick').attr('transform', function (d) { return 'translate(' + x(d) + ',0)'; });
axisX.selectAll('line').attr('stroke', '#000').attr('stroke-width', 2);
axisX.selectAll('text')
    .attr('text-anchor', 'start').attr('x', 0).attr('y', 7).attr('dy', '0.71em')
    .style('font-family', '"Liberation Sans", sans-serif').style('font-size', '27px').style('fill', '#111')
    .attr('lengthAdjust', 'spacingAndGlyphs')
    .attr('textLength', function () { return this.textContent ? 23 : null; });
svg.append('rect').attr('class', 'crisp').attr('x', 0).attr('y', 1047)
    .attr('width', plotRight).attr('height', 3).attr('fill', '#000');
label(5, 1069, '2023/01/30', 119);
label(2651, 1069, '2023/07/21', 118);

// ---- titles ----
label(14, 20, '마스타-[코스닥]', 210, '#222', 'kr');
label(2709, 20, '(1일)', 59, '#222', 'kr');

legendIcon(123, 45);
label(141, 54, '가격이동평균(종가,지수이평)', 314, '#111', 'kr');
label(467, 54, '5', 11, red);
label(489, 54, '20', 24, navy);
label(525, 54, '10', 22, orange);
legendIcon(557, 45);
label(574, 54, '가격이동평균(종가,지수이평)', 315, '#111', 'kr');
label(899, 54, '60', 23, green);
label(934, 54, '300', 37, '#111');
legendIcon(981, 45);
label(1000, 54, '가격이동평균(종가,지수이평)', 288, '#111', 'kr');

legendIcon(122, 526);
label(143, 535, 'OBV', 49, orange);
label(204, 535, 'Signal(단순이평(9))', 216, obvNavy, 'kr');

legendIcon(122, 775);
label(142, 784, 'VolumeOscillator(10,20,단순이평)', 371, '#111', 'kr');

legendIcon(122, 884);
label(142, 893, 'BostiansIntradayIntensityIndex', 341, orange);

legendIcon(122, 966);
label(142, 975, '거래량', 67, '#111', 'kr');
legendIcon(215, 966);
label(233, 975, '거래량이동평균(단순이평)', 280, '#111', 'kr');
label(528, 975, '5', 11, '#111');
label(548, 975, '20', 24, '#e83a1a');
label(583, 975, '60', 23, green);

// ---- pane buttons and last value tags ----
paneButtons(78);
paneButtons(522);
paneButtons(772);
paneButtons(880);
paneButtons(962);

function valueTag(yTop, yBottom, yTip, tipX, str, textX, textW) {
    svg.append('path')
        .attr('d', 'M' + tipX + ',' + yTip + 'L' + (tipX + 14) + ',' + yTop + 'H2778V' + yBottom + 'H' + (tipX + 14) + 'Z')
        .attr('fill', '#4179e0');
    label(textX, (yTop + yBottom) / 2, str, textW, '#fff');
}
valueTag(200, 230, yPrice(close[119]), 2662, fmt(close[119]), 2691, 66);
valueTag(1020, 1048, 1037, 2663, fmt(volume[119]), 2684, 78);
</script>
</body>
</html>
